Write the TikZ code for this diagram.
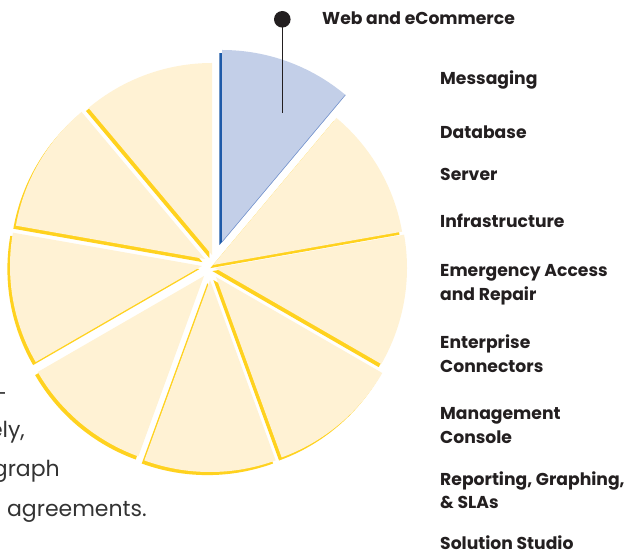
\documentclass[tikz,border=0pt]{standalone}
\usepackage{fontspec}
\setmainfont{Poppins}
\definecolor{pieFill}{HTML}{FFF2D4}
\definecolor{pieLine}{HTML}{FFD21F}
\definecolor{blueFill}{HTML}{C3CFE8}
\definecolor{blueLine}{HTML}{1E5AA8}
\definecolor{blueEdge}{HTML}{7A97CF}
\definecolor{txt}{HTML}{231F20}
\definecolor{bodytxt}{HTML}{333333}
\tikzset{
  lbl/.style={anchor=base west, inner sep=0pt, text=txt,
    font=\fontsize{17.2}{24}\selectfont\bfseries},
  bodyline/.style={anchor=base east, inner sep=0pt, text=bodytxt,
    font=\fontsize{22}{40}\selectfont},
  pindot/.style={circle, fill=txt, inner sep=0pt, minimum size=16.6pt},
}
\begin{document}
\begin{tikzpicture}[x=1pt,y=1pt]
\useasboundingbox (0,0) rectangle (634,556);
% shadows (yellow) of the slices
\foreach \px/\py/\a in {212/301/90, 205/297/130, 202/290/170, 204/280/210,
    210/276/250, 216/279/290, 215/288/330, 213/291/10}{
  \fill[pieLine, shift={(-2.6pt,-3.1pt)}] (\px pt,\py pt) -- ++(\a:192pt)
    arc[start angle=\a, end angle=\a+40, radius=192pt] -- cycle;
}
% shadow of highlighted slice
\fill[blueLine, shift={(-2.6pt,-3.1pt)}] (222pt,314pt) -- ++(50:192pt)
  arc[start angle=50, end angle=90, radius=192pt] -- cycle;
% slices
\foreach \px/\py/\a in {212/301/90, 205/297/130, 202/290/170, 204/280/210,
    210/276/250, 216/279/290, 215/288/330, 213/291/10}{
  \fill[pieFill] (\px pt,\py pt) -- ++(\a:192pt)
    arc[start angle=\a, end angle=\a+40, radius=192pt] -- cycle;
}
\fill[blueFill] (222pt,314pt) -- ++(50:192pt)
  arc[start angle=50, end angle=90, radius=192pt] -- cycle;
\draw[blueEdge, line width=0.6pt] (222pt,314pt) -- ++(50:192pt);
% pin
\node[pindot] (dot) at (282.3,536.7) {};
\coordinate (pin) at (282.3,443);
\draw[txt, line width=1.3pt] (dot.center) -- (pin);
% labels
\node[lbl] (web) at (322,531.5) {Web and eCommerce};
\node[lbl] (msg) at (440,471.5) {Messaging};
\node[lbl] (db) at (440,417.5) {Database};
\node[lbl] (srv) at (440,375.5) {Server};
\node[lbl] (infra) at (440,328.5) {Infrastructure};
\node[lbl] (emA) at (440,279.5) {Emergency Access};
\node[lbl] (emB) at (440,255.5) {and Repair};
\node[lbl] (entA) at (440,207.5) {Enterprise};
\node[lbl] (entB) at (440,183.5) {Connectors};
\node[lbl] (mgA) at (440,136.5) {Management};
\node[lbl] (mgB) at (440,112.5) {Console};
\node[lbl] (repA) at (440,70.5) {Reporting, Graphing,};
\node[lbl] (repB) at (440,47.5) {\& SLAs};
\node[lbl] (sol) at (440,6) {Solution Studio};
% body text, cut at the left edge
\node[bodyline] (b1) at (7,154) {–};
\node[bodyline] (b2) at (25,118) {ely,};
\node[bodyline] (b3) at (60,79) {graph};
\node[bodyline] (b4) at (147,39) {agreements.};
\end{tikzpicture}
\end{document}
